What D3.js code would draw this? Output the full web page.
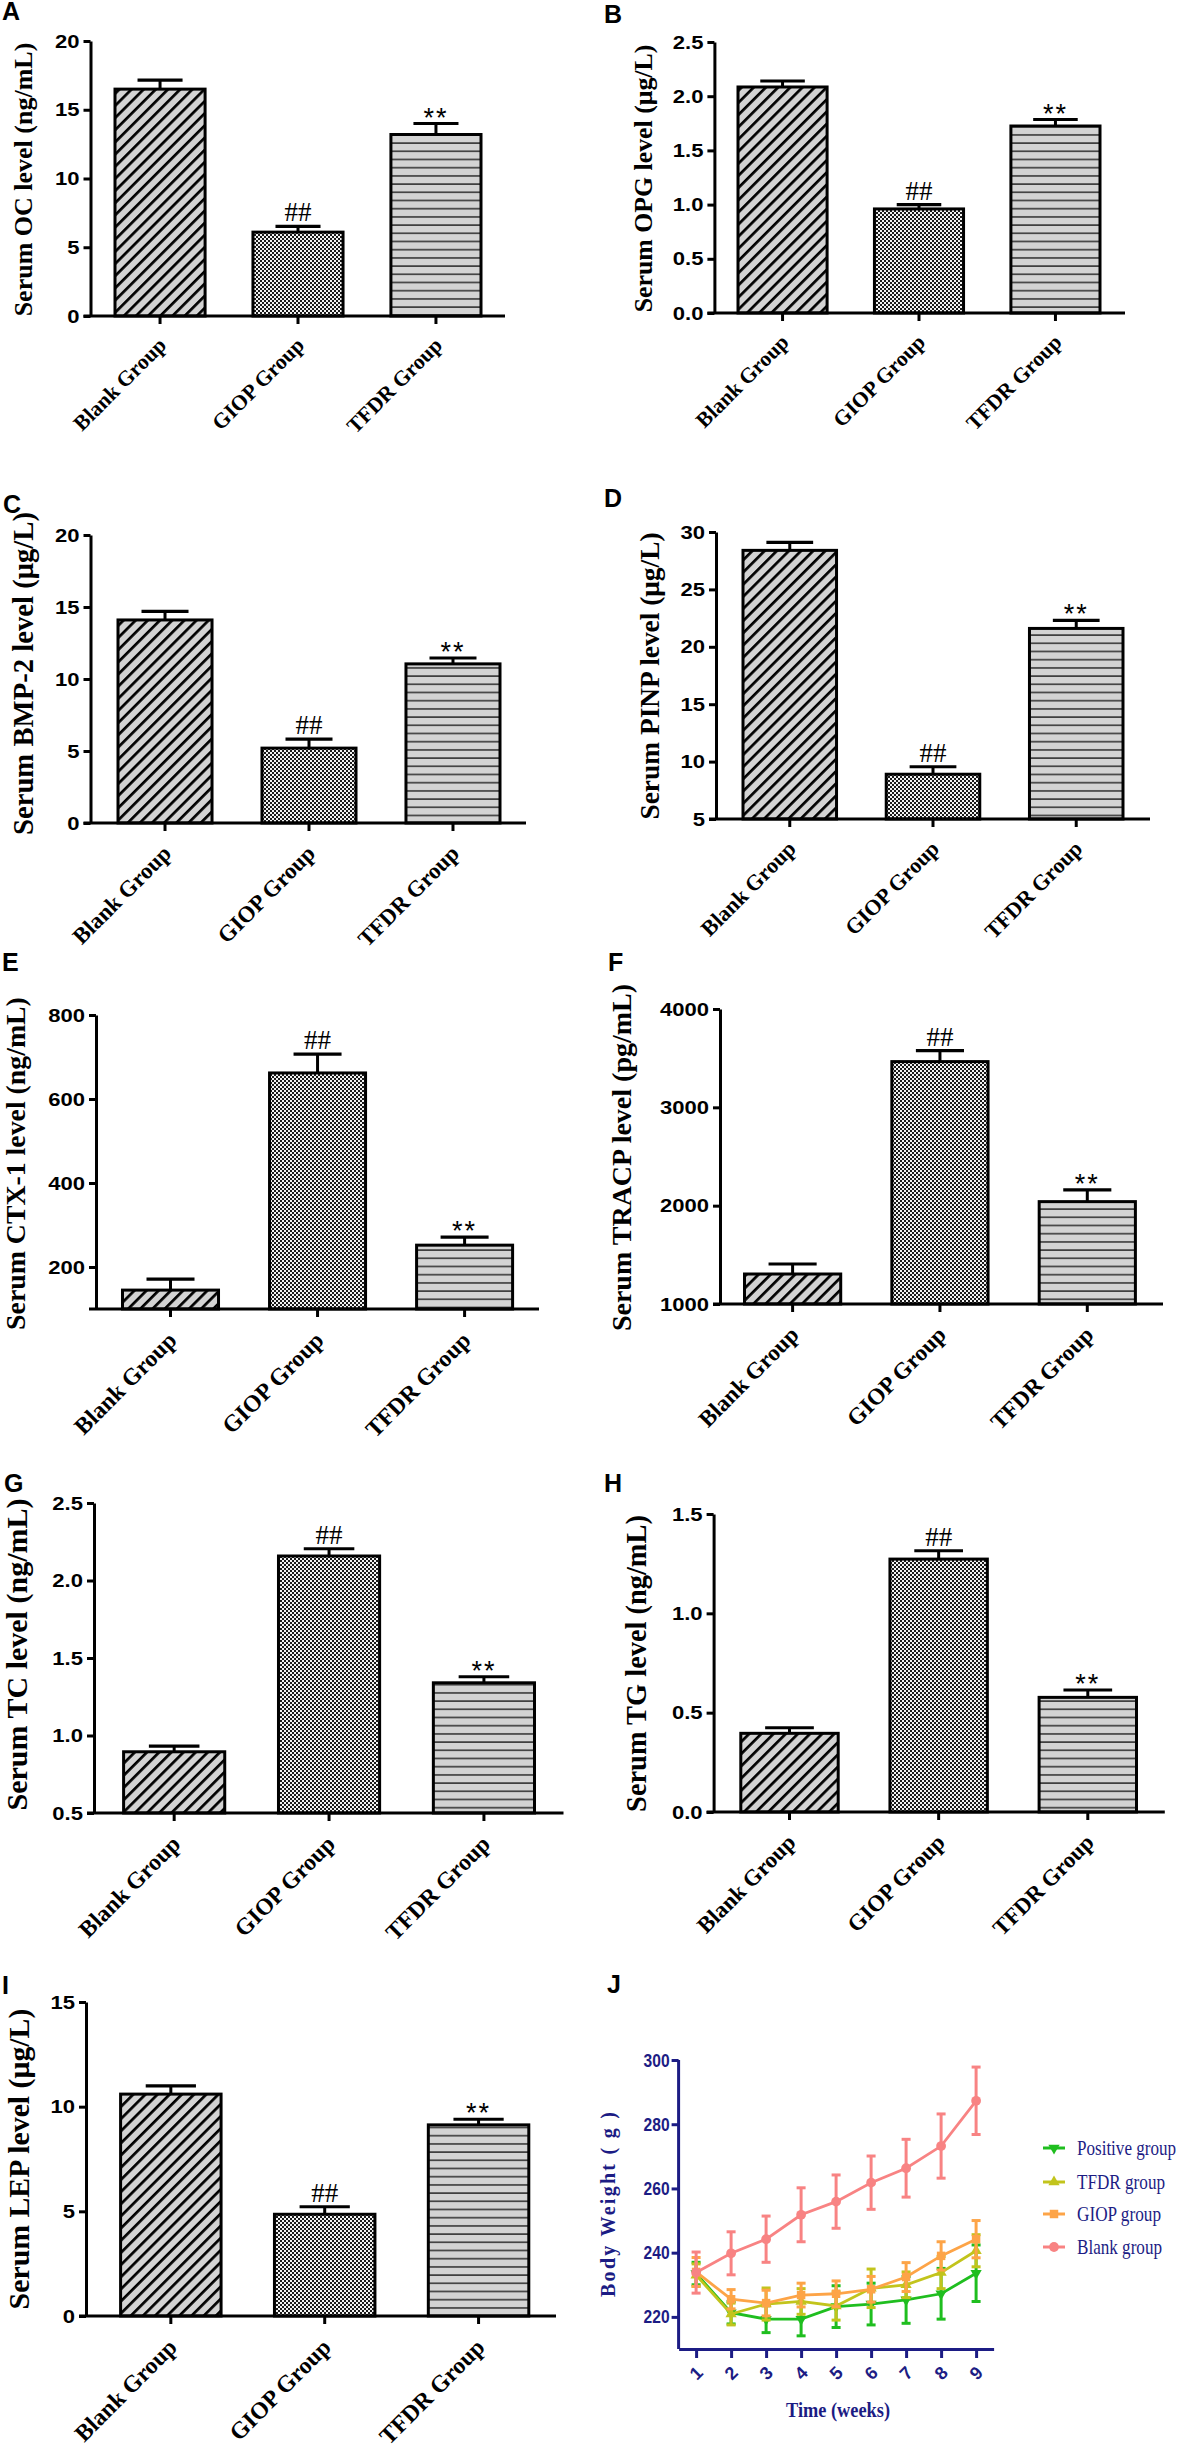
<!DOCTYPE html>
<html><head><meta charset="utf-8">
<script src="https://cdn.jsdelivr.net/npm/d3@7"></script>
<style>body{margin:0;background:#fff} svg{display:block}</style>
</head><body>
<svg id="fig" width="1181" height="2452"></svg>
<script>
// ---------------- DATA ----------------
const categories = ["Blank Group", "GIOP Group", "TFDR Group"];
const signif = ["", "##", "**"];

const ocMean = [16.5, 6.1, 13.2],      ocSem = [0.66, 0.42, 0.8];
const ocTicks = [0, 5, 10, 15, 20],    ocLabels = ["0", "5", "10", "15", "20"];
const opgMean = [2.085, 0.96, 1.725],  opgSem = [0.055, 0.04, 0.06];
const opgTicks = [0, 0.5, 1, 1.5, 2, 2.5], opgLabels = ["0.0", "0.5", "1.0", "1.5", "2.0", "2.5"];
const bmpMean = [14.1, 5.2, 11.05],    bmpSem = [0.6, 0.63, 0.41];
const bmpTicks = [0, 5, 10, 15, 20],   bmpLabels = ["0", "5", "10", "15", "20"];
const pinpMean = [28.4, 8.9, 21.6],    pinpSem = [0.7, 0.65, 0.7];
const pinpTicks = [5, 10, 15, 20, 25, 30], pinpLabels = ["5", "10", "15", "20", "25", "30"];
const ctxMean = [145, 662, 252],       ctxSem = [26, 45, 19];
const ctxTicks = [200, 400, 600, 800], ctxLabels = ["200", "400", "600", "800"];
const tracpMean = [1305, 3465, 2041],  tracpSem = [102, 112, 119];
const tracpTicks = [1000, 2000, 3000, 4000], tracpLabels = ["1000", "2000", "3000", "4000"];
const tcMean = [0.895, 2.158, 1.34],   tcSem = [0.037, 0.047, 0.039];
const tcTicks = [0.5, 1, 1.5, 2, 2.5], tcLabels = ["0.5", "1.0", "1.5", "2.0", "2.5"];
const tgMean = [0.396, 1.273, 0.577],  tgSem = [0.028, 0.042, 0.037];
const tgTicks = [0, 0.5, 1, 1.5],      tgLabels = ["0.0", "0.5", "1.0", "1.5"];
const lepMean = [10.6, 4.86, 9.13],    lepSem = [0.39, 0.36, 0.27];
const lepTicks = [0, 5, 10, 15],       lepLabels = ["0", "5", "10", "15"];

const weeks = [1, 2, 3, 4, 5, 6, 7, 8, 9];
const bwTicks = [220, 240, 260, 280, 300];
const groupNames = ["Positive group", "TFDR group", "GIOP group", "Blank group"];
const positiveMean = [233.5, 221.3, 219.3, 219.3, 223.2, 224.0, 225.3, 227.2, 233.6];
const positiveErr  = [3.5, 3.5, 4.2, 5.2, 6.5, 6.5, 7.3, 7.9, 8.8];
const tfdrMean = [233.0, 220.9, 224.0, 224.8, 223.4, 228.9, 230.0, 233.8, 240.6];
const tfdrErr  = [3.5, 3.4, 5.0, 4.0, 4.4, 6.0, 4.0, 5.0, 5.0];
const giopMean = [234.0, 225.5, 224.3, 226.8, 227.2, 228.6, 232.4, 239.0, 244.2];
const giopErr  = [4.5, 3.0, 4.0, 3.7, 4.0, 4.0, 4.5, 4.4, 5.8];
const blankMean = [233.8, 239.8, 244.2, 251.8, 255.9, 261.8, 266.3, 273.2, 287.3];
const blankErr  = [6.4, 6.7, 7.2, 8.4, 8.3, 8.3, 9.0, 10.0, 10.5];

// ---------------- LAYOUT ----------------
const SERIF = "'Liberation Serif','Times New Roman',serif";
const SANS = "'Liberation Sans',Arial,sans-serif";
const NAVY = "#1c1c84";

const panels = [
  {key:"A", title:"Serum OC level (ng/mL)", mean:ocMean, sem:ocSem, domain:[0,20], ticks:ocTicks, labels:ocLabels,
   ax:90.5, top:41, base:316, end:505, b0:115, b1:481, tx:23.5, ty:179.5, tfs:26, cfs:21.5, lx:2, ly:20},
  {key:"B", title:"Serum OPG level (μg/L)", mean:opgMean, sem:opgSem, domain:[0,2.5], ticks:opgTicks, labels:opgLabels,
   ax:714.4, top:42, base:313, end:1125, b0:738, b1:1100, tx:643, ty:178.5, tfs:25.8, cfs:21.5, lx:604, ly:23},
  {key:"C", title:"Serum BMP-2 level (μg/L)", mean:bmpMean, sem:bmpSem, domain:[0,20], ticks:bmpTicks, labels:bmpLabels,
   ax:90.5, top:535, base:823, end:526, b0:118, b1:500, tx:23.5, ty:673.5, tfs:28.7, cfs:22.8, lx:3, ly:513},
  {key:"D", title:"Serum PINP level (μg/L)", mean:pinpMean, sem:pinpSem, domain:[5,30], ticks:pinpTicks, labels:pinpLabels,
   ax:716, top:532, base:819, end:1150, b0:743, b1:1123, tx:650, ty:676, tfs:27.4, cfs:22, lx:604, ly:507},
  {key:"E", title:"Serum CTX-1 level (ng/mL)", mean:ctxMean, sem:ctxSem, domain:[100,800], ticks:ctxTicks, labels:ctxLabels,
   ax:96, top:1015, base:1309, end:539, b0:122.5, b1:512.6, tx:16, ty:1163.5, tfs:27.8, cfs:23.7, lx:2, ly:971},
  {key:"F", title:"Serum TRACP level (pg/mL)", mean:tracpMean, sem:tracpSem, domain:[1000,4000], ticks:tracpTicks, labels:tracpLabels,
   ax:720, top:1009, base:1304, end:1163, b0:744.5, b1:1135.4, tx:622, ty:1157.5, tfs:28, cfs:23.2, lx:608, ly:971},
  {key:"G", title:"Serum TC level (ng/mL)", mean:tcMean, sem:tcSem, domain:[0.5,2.5], ticks:tcTicks, labels:tcLabels,
   ax:94, top:1503, base:1813, end:563.5, b0:123.6, b1:534.5, tx:17, ty:1654.5, tfs:30, cfs:23.5, lx:4, ly:1492},
  {key:"H", title:"Serum TG level (ng/mL)", mean:tgMean, sem:tgSem, domain:[0,1.5], ticks:tgTicks, labels:tgLabels,
   ax:713.6, top:1514, base:1812, end:1164.8, b0:740.8, b1:1136.5, tx:637, ty:1663.5, tfs:28.4, cfs:22.8, lx:604, ly:1492},
  {key:"I", title:"Serum LEP level (μg/L)", mean:lepMean, sem:lepSem, domain:[0,15], ticks:lepTicks, labels:lepLabels,
   ax:86, top:2002, base:2316, end:556, b0:120.6, b1:528.8, tx:19, ty:2159, tfs:29.8, cfs:23.7, lx:2, ly:1994}
];

const svg = d3.select("#fig");
svg.append("rect").attr("width", 1181).attr("height", 2452).attr("fill", "#fff");

// ---------------- PATTERNS ----------------
const defs = svg.append("defs");
const pd = defs.append("pattern").attr("id", "diag").attr("patternUnits", "userSpaceOnUse")
  .attr("width", 8.6).attr("height", 8.6).attr("patternTransform", "rotate(45)");
pd.append("rect").attr("width", 8.6).attr("height", 8.6).attr("fill", "#d3d3d3");
pd.append("rect").attr("width", 2.7).attr("height", 8.6).attr("fill", "#000");

const pc = defs.append("pattern").attr("id", "check").attr("patternUnits", "userSpaceOnUse")
  .attr("width", 4).attr("height", 4);
pc.append("rect").attr("width", 4).attr("height", 4).attr("fill", "#f2f2f2");
pc.append("rect").attr("width", 2).attr("height", 2).attr("fill", "#1a1a1a");
pc.append("rect").attr("x", 2).attr("y", 2).attr("width", 2).attr("height", 2).attr("fill", "#1a1a1a");

const ph = defs.append("pattern").attr("id", "horiz").attr("patternUnits", "userSpaceOnUse")
  .attr("width", 10).attr("height", 8.2);
ph.append("rect").attr("width", 10).attr("height", 8.2).attr("fill", "#d3d3d3");
ph.append("rect").attr("y", 3).attr("width", 10).attr("height", 1.4).attr("fill", "#222");

const fills = ["url(#diag)", "url(#check)", "url(#horiz)"];

// ---------------- BAR PANELS ----------------
function barPanel(p) {
  const g = svg.append("g");
  const y = d3.scaleLinear().domain(p.domain).range([p.base, p.top]);
  const pad = 0.347;
  const L = (p.b1 - p.b0) / (1 - pad / 3);
  const r0 = p.b0 - pad * L / 6;
  const x = d3.scaleBand().domain(categories).range([r0, r0 + L]).paddingInner(pad).paddingOuter(pad / 2);
  const bw = x.bandwidth();

  // bars
  g.selectAll("rect.bar").data(categories).join("rect").attr("class", "bar")
    .attr("x", d => x(d)).attr("width", bw)
    .attr("y", (d, i) => y(p.mean[i])).attr("height", (d, i) => p.base - y(p.mean[i]))
    .attr("fill", (d, i) => fills[i]).attr("stroke", "#000").attr("stroke-width", 3);

  // error bars + significance marks
  categories.forEach((c, i) => {
    const cx = x(c) + bw / 2, yt = y(p.mean[i] + p.sem[i]);
    g.append("line").attr("x1", cx).attr("x2", cx).attr("y1", y(p.mean[i])).attr("y2", yt)
      .attr("stroke", "#000").attr("stroke-width", 3);
    g.append("line").attr("x1", cx - bw / 4).attr("x2", cx + bw / 4).attr("y1", yt).attr("y2", yt)
      .attr("stroke", "#000").attr("stroke-width", 3.2);
    if (signif[i] === "##") {
      g.append("text").attr("x", cx).attr("y", yt - 5).attr("text-anchor", "middle")
        .attr("font-family", SERIF).attr("font-size", 27).text(signif[i]);
    } else if (signif[i] === "**") {
      g.append("text").attr("x", cx).attr("y", yt + 3).attr("text-anchor", "middle")
        .attr("font-family", SANS).attr("font-size", 27).attr("letter-spacing", 2).text(signif[i]);
    }
  });

  // y axis
  const ya = g.append("g").attr("transform", `translate(${p.ax},0)`)
    .call(d3.axisLeft(y).tickValues(p.ticks).tickFormat((d, i) => p.labels[i]).tickSize(7).tickSizeOuter(0).tickPadding(4));
  ya.select(".domain").attr("stroke", "#000").attr("stroke-width", 3);
  ya.selectAll(".tick line").attr("stroke", "#000").attr("stroke-width", 3);
  ya.selectAll(".tick text").attr("font-family", SANS).attr("font-weight", "bold")
    .attr("font-size", 19).attr("fill", "#000")
    .each(function () { const w = this.getComputedTextLength(); d3.select(this).attr("textLength", w * 1.16).attr("lengthAdjust", "spacingAndGlyphs"); });

  // x axis
  g.append("line").attr("x1", p.ax - 7).attr("x2", p.end).attr("y1", p.base).attr("y2", p.base)
    .attr("stroke", "#000").attr("stroke-width", 3);
  const xa = g.append("g").attr("transform", `translate(0,${p.base})`)
    .call(d3.axisBottom(x).tickSize(8).tickSizeOuter(0).tickFormat(""));
  xa.select(".domain").remove();
  xa.selectAll(".tick line").attr("stroke", "#000").attr("stroke-width", 3);

  // category labels (rotated)
  g.selectAll("text.cat").data(categories).join("text").attr("class", "cat")
    .attr("transform", d => `translate(${x(d) + bw / 2 + 7.5},${p.base + 9 + p.cfs}) rotate(-45)`)
    .attr("text-anchor", "end").attr("font-family", SERIF).attr("font-weight", "bold")
    .attr("font-size", p.cfs).text(d => d);

  // y title
  g.append("text").attr("transform", `translate(${p.tx},${p.ty}) rotate(-90)`)
    .attr("dy", "0.33em").attr("text-anchor", "middle").attr("font-family", SERIF)
    .attr("font-weight", "bold").attr("font-size", p.tfs).text(p.title);

  // panel letter
  g.append("text").attr("x", p.lx).attr("y", p.ly).attr("font-family", SANS).attr("font-weight", "bold")
    .attr("font-size", 25).text(p.key);
}
panels.forEach(barPanel);

// ---------------- LINE PANEL J ----------------
(function () {
  const g = svg.append("g");
  const x = d3.scaleLinear().domain([0.5, 9.5]).range([678.6, 993.6]);
  const y = d3.scaleLinear().domain([210, 300]).range([2349, 2060]);
  const series = [
    {name: groupNames[0], mean: positiveMean, err: positiveErr, color: "#1fbe1f", sym: d3.symbolTriangle, rot: 180, size: 55},
    {name: groupNames[1], mean: tfdrMean, err: tfdrErr, color: "#c2c41c", sym: d3.symbolTriangle, rot: 0, size: 55},
    {name: groupNames[2], mean: giopMean, err: giopErr, color: "#fda447", sym: d3.symbolSquare, rot: 0, size: 72},
    {name: groupNames[3], mean: blankMean, err: blankErr, color: "#f88383", sym: d3.symbolCircle, rot: 0, size: 75}
  ];
  const line = d3.line().x(d => x(d[0])).y(d => y(d[1]));
  series.forEach(s => {
    const pts = weeks.map((w, i) => [w, s.mean[i], s.err[i]]);
    pts.forEach(d => {
      g.append("line").attr("x1", x(d[0])).attr("x2", x(d[0])).attr("y1", y(d[1] - d[2])).attr("y2", y(d[1] + d[2]))
        .attr("stroke", s.color).attr("stroke-width", 3);
      [d[1] - d[2], d[1] + d[2]].forEach(v => g.append("line").attr("x1", x(d[0]) - 4.5).attr("x2", x(d[0]) + 4.5)
        .attr("y1", y(v)).attr("y2", y(v)).attr("stroke", s.color).attr("stroke-width", 3));
    });
    g.append("path").datum(pts).attr("d", line).attr("fill", "none").attr("stroke", s.color).attr("stroke-width", 2.8);
    g.selectAll(null).data(pts).join("path")
      .attr("d", d3.symbol().type(s.sym).size(s.size))
      .attr("transform", d => `translate(${x(d[0])},${y(d[1])}) rotate(${s.rot})`)
      .attr("fill", s.color);
  });

  // axes
  const ya = g.append("g").attr("transform", "translate(678.6,0)")
    .call(d3.axisLeft(y).tickValues(bwTicks).tickSize(7).tickSizeOuter(0).tickPadding(2));
  ya.select(".domain").attr("d", `M0,${y(300)}V${y(210)}`).attr("stroke", NAVY).attr("stroke-width", 3);
  ya.selectAll(".tick line").attr("stroke", NAVY).attr("stroke-width", 3);
  ya.selectAll(".tick text").attr("font-family", SANS).attr("font-weight", "bold").attr("font-size", 19)
    .attr("fill", NAVY).attr("textLength", 26).attr("lengthAdjust", "spacingAndGlyphs");

  const xa = g.append("g").attr("transform", `translate(0,${y(210)})`)
    .call(d3.axisBottom(x).tickValues(weeks).tickSize(9).tickSizeOuter(0).tickFormat(""));
  xa.select(".domain").attr("stroke", NAVY).attr("stroke-width", 3);
  xa.selectAll(".tick line").attr("stroke", NAVY).attr("stroke-width", 3);
  g.selectAll("text.wk").data(weeks).join("text").attr("class", "wk")
    .attr("transform", d => `translate(${x(d)},2373) rotate(-45)`)
    .attr("text-anchor", "middle").attr("dy", "0.35em").attr("font-family", SANS).attr("font-weight", "bold")
    .attr("font-size", 18).attr("fill", NAVY).text(d => d);

  // titles
  g.append("text").attr("transform", "translate(608,2204.5) rotate(-90)").attr("dy", "0.33em")
    .attr("text-anchor", "middle").attr("font-family", SERIF).attr("font-weight", "bold").attr("font-size", 20)
    .attr("fill", NAVY).attr("textLength", 185).attr("lengthAdjust", "spacing").text("Body Weight ( g )");
  g.append("text").attr("x", 838).attr("y", 2417).attr("text-anchor", "middle").attr("font-family", SERIF)
    .attr("font-weight", "bold").attr("font-size", 22).attr("fill", NAVY)
    .attr("textLength", 104).attr("lengthAdjust", "spacingAndGlyphs").text("Time (weeks)");

  // legend
  const legY = [2148, 2182, 2214, 2247];
  const legLen = [99, 88, 84, 85];
  series.forEach((s, i) => {
    g.append("line").attr("x1", 1043).attr("x2", 1065).attr("y1", legY[i]).attr("y2", legY[i])
      .attr("stroke", s.color).attr("stroke-width", 3);
    g.append("path").attr("d", d3.symbol().type(s.sym).size(s.size)())
      .attr("transform", `translate(1054,${legY[i]}) rotate(${s.rot})`).attr("fill", s.color);
    g.append("text").attr("x", 1077).attr("y", legY[i] + 7).attr("font-family", SERIF).attr("font-size", 22)
      .attr("fill", NAVY).attr("textLength", legLen[i]).attr("lengthAdjust", "spacingAndGlyphs").text(s.name);
  });

  g.append("text").attr("x", 607).attr("y", 1993).attr("font-family", SANS).attr("font-weight", "bold")
    .attr("font-size", 25).text("J");
})();
</script>
</body></html>
